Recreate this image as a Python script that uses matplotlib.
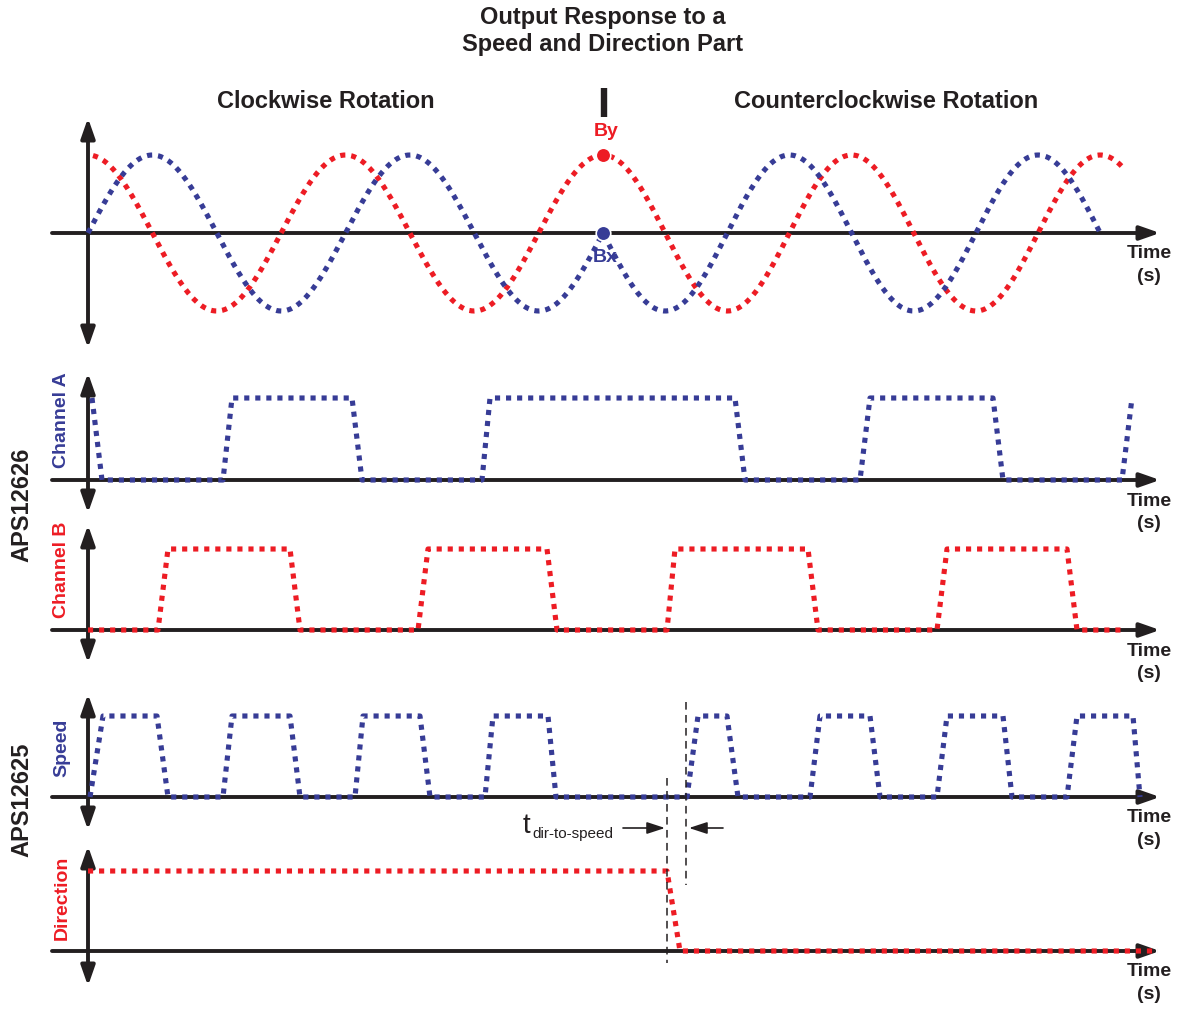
import numpy as np
import matplotlib
matplotlib.use('Agg')
import matplotlib.pyplot as plt
from matplotlib.transforms import blended_transform_factory

plt.rcParams['font.family'] = ['Liberation Sans', 'DejaVu Sans']

BLUE = '#373c96'
RED = '#ed1c24'
BLACK = '#231f20'

# time in ms, 0 at the vertical axis
t_view = (-1.76, 21.96)
t_axis_start = -0.72
t_axis_end = 21.44
t_reversal = 10.30

# electrical angle of the target: CW until the reversal, CCW after it
rotation_t = [0.0, 10.30, 20.70]
rotation_deg = [0.0, 720.0, -33.0]
bx_span = (0.0, 20.24)
by_span = (0.10, 20.70)

# APS12626 outputs (time ms, level)
channel_a_t = [0.08, 0.28, 2.70, 2.88, 5.28, 5.48, 7.88, 8.04, 12.94, 13.14,
               15.44, 15.64, 18.10, 18.30, 20.68, 20.88]
channel_a_v = [1, 0, 0, 1, 1, 0, 0, 1, 1, 0, 0, 1, 1, 0, 0, 1]
channel_b_t = [0.0, 1.40, 1.60, 4.04, 4.24, 6.60, 6.80, 9.18, 9.38, 11.58,
               11.74, 14.40, 14.60, 16.98, 17.18, 19.58, 19.78, 20.68]
channel_b_v = [0, 0, 1, 1, 0, 0, 1, 1, 0, 0, 1, 1, 0, 0, 1, 1, 0, 0]

# APS12625 outputs
speed_t = [0.04, 0.30, 1.38, 1.60, 2.70, 2.88, 4.04, 4.24, 5.34, 5.50, 6.64,
           6.84, 7.94, 8.10, 9.20, 9.36, 11.98, 12.20, 12.78, 13.00, 14.44,
           14.64, 15.64, 15.84, 16.98, 17.18, 18.30, 18.48, 19.58, 19.78,
           20.90, 21.04]
speed_v = [0, 1, 1, 0, 0, 1, 1, 0, 0, 1, 1, 0, 0, 1, 1, 0, 0, 1, 1, 0, 0, 1,
           1, 0, 0, 1, 1, 0, 0, 1, 1, 0]
direction_t = [0.0, 11.58, 11.84, 21.40]
direction_v = [1, 1, 0, 0]

t_dir_edge = 11.58
t_speed_edge = 11.96

FIG_W, FIG_H = 1186, 1010
fig = plt.figure(figsize=(11.86, 10.10), dpi=100)

dotted = dict(lw=3.7, ls=(0, (1, 1.15)), dash_capstyle='butt', zorder=3)


def panel_axes(top, bottom, baseline, unit):
    # top/bottom = arrow tips, baseline/unit in pixels from the top of the figure
    ax = fig.add_axes([0, 1 - bottom / FIG_H, 1, (bottom - top) / FIG_H])
    ax.set_xlim(*t_view)
    ax.set_ylim(-(bottom - baseline) / unit, (baseline - top) / unit)
    ax.axis('off')
    y0, y1 = ax.get_ylim()
    head = 'head_length=1.2,head_width=0.42'
    ax.annotate('', xy=(t_axis_end, 0), xytext=(t_axis_start, 0), annotation_clip=False,
                arrowprops=dict(arrowstyle='-|>,' + head, lw=2.8, color=BLACK,
                                shrinkA=0, shrinkB=0, mutation_scale=10), zorder=1)
    ax.annotate('', xy=(0, y1), xytext=(0, y0), annotation_clip=False,
                arrowprops=dict(arrowstyle='<|-|>,' + head, lw=2.8, color=BLACK,
                                shrinkA=0, shrinkB=0, mutation_scale=10), zorder=1)
    ax.annotate('Time\n(s)', xy=(21.22, 0), xytext=(0, -9), textcoords='offset points',
                ha='center', va='top', fontsize=14, fontweight='bold', color=BLACK,
                linespacing=1.45, annotation_clip=False)
    return ax


ax_sine = panel_axes(118, 348, 233, 78)
ax_a = panel_axes(373, 513, 480, 82)
ax_b = panel_axes(525, 663, 630, 81)
ax_speed = panel_axes(694, 830, 797, 81)
ax_dir = panel_axes(846, 986, 951, 80)

# magnetic field seen by the sensor
t_bx = np.linspace(bx_span[0], bx_span[1], 1200)
t_by = np.linspace(by_span[0], by_span[1], 1200)
bx = np.sin(np.radians(np.interp(t_bx, rotation_t, rotation_deg)))
by = np.cos(np.radians(np.interp(t_by, rotation_t, rotation_deg)))
ax_sine.plot(t_by, by, color=RED, clip_on=False, **dotted)
ax_sine.plot(t_bx, bx, color=BLUE, clip_on=False, **dotted)
ax_sine.plot([t_reversal], [1], 'o', ms=10.5, color=RED, mec='white', mew=1.2, zorder=5)
ax_sine.plot([t_reversal], [0], 'o', ms=10.5, color=BLUE, mec='white', mew=1.2, zorder=5)
ax_sine.text(10.36, 1.295, 'By', color=RED, fontsize=14, fontweight='bold',
             ha='center', va='center', zorder=4)
ax_sine.text(10.34, -0.32, 'Bx', color=BLUE, fontsize=14, fontweight='bold',
             ha='center', va='center', zorder=2)
ax_sine.plot([10.32, 10.32], [1.487, 1.859], color=BLACK, lw=4.6, solid_capstyle='butt',
             clip_on=False)

ax_a.plot(channel_a_t, channel_a_v, color=BLUE, clip_on=False, **dotted)
ax_b.plot(channel_b_t, channel_b_v, color=RED, clip_on=False, **dotted)
ax_speed.plot(speed_t, speed_v, color=BLUE, clip_on=False, **dotted)
ax_dir.plot(direction_t, direction_v, color=RED, clip_on=False, **dotted)

# direction-to-speed delay markers
trans = blended_transform_factory(ax_dir.transData, fig.transFigure)
ax_dir.plot([t_dir_edge, t_dir_edge], [1 - 778 / FIG_H, 1 - 963 / FIG_H], transform=trans,
            color=BLACK, lw=1.1, ls=(0, (5, 3.5)), clip_on=False, zorder=4)
ax_dir.plot([t_speed_edge, t_speed_edge], [1 - 702 / FIG_H, 1 - 885 / FIG_H], transform=trans,
            color=BLACK, lw=1.1, ls=(0, (5, 3.5)), clip_on=False, zorder=4)
ya = 1 - 828 / FIG_H
small_head = dict(arrowstyle='-|>,head_length=1.1,head_width=0.36', lw=1.2, color=BLACK,
                  shrinkA=0, shrinkB=0, mutation_scale=10)
ax_dir.annotate('', xy=(t_dir_edge - 0.04, ya), xytext=(10.70, ya), xycoords=trans,
                textcoords=trans, arrowprops=small_head, annotation_clip=False)
ax_dir.annotate('', xy=(t_speed_edge + 0.06, ya), xytext=(12.70, ya), xycoords=trans,
                textcoords=trans, arrowprops=small_head, annotation_clip=False)
ax_dir.text(10.50, 1 - 838 / FIG_H, 'dir-to-speed', transform=trans, fontsize=11,
            ha='right', va='baseline', color=BLACK)
ax_dir.text(8.84, 1 - 833 / FIG_H, 't', transform=trans, fontsize=20,
            ha='right', va='baseline', color=BLACK)

# titles and labels
fig.text(603 / FIG_W, 1 - 6 / FIG_H, 'Output Response to a\nSpeed and Direction Part',
         ha='center', va='top', fontsize=17, fontweight='bold', color=BLACK, linespacing=1.25)
fig.text(326 / FIG_W, 1 - 102 / FIG_H, 'Clockwise Rotation', ha='center', va='center',
         fontsize=17, fontweight='bold', color=BLACK)
fig.text(886 / FIG_W, 1 - 102 / FIG_H, 'Counterclockwise Rotation', ha='center', va='center',
         fontsize=17, fontweight='bold', color=BLACK)

fig.text(22 / FIG_W, 1 - 505 / FIG_H, 'APS12626', rotation=90, ha='center', va='center',
         fontsize=17, fontweight='bold', color=BLACK)
fig.text(22 / FIG_W, 1 - 800 / FIG_H, 'APS12625', rotation=90, ha='center', va='center',
         fontsize=17, fontweight='bold', color=BLACK)
fig.text(62 / FIG_W, 1 - 420 / FIG_H, 'Channel A', rotation=90, ha='center', va='center',
         fontsize=14, fontweight='bold', color=BLUE)
fig.text(62 / FIG_W, 1 - 570 / FIG_H, 'Channel B', rotation=90, ha='center', va='center',
         fontsize=14, fontweight='bold', color=RED)
fig.text(62 / FIG_W, 1 - 748 / FIG_H, 'Speed', rotation=90, ha='center', va='center',
         fontsize=14, fontweight='bold', color=BLUE)
fig.text(62 / FIG_W, 1 - 898 / FIG_H, 'Direction', rotation=90, ha='center', va='center',
         fontsize=14, fontweight='bold', color=RED)

fig.savefig('out.png', dpi=100, facecolor='white')
